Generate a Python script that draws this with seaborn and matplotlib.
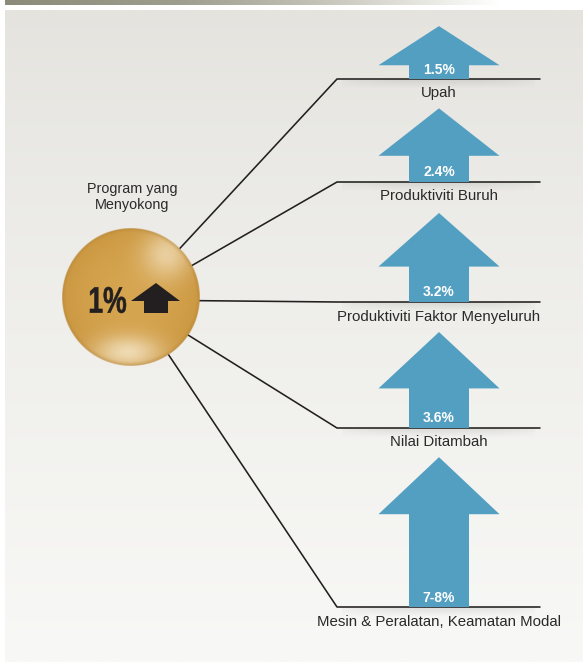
import numpy as np
import pandas as pd
import matplotlib
matplotlib.use("Agg")
import matplotlib.pyplot as plt
from matplotlib.patches import Polygon, PathPatch
from matplotlib.textpath import TextPath
from matplotlib.font_manager import FontProperties
from matplotlib.transforms import Affine2D
import seaborn as sns

# ---- data -------------------------------------------------------------
categories = ["Upah", "Produktiviti Buruh", "Produktiviti Faktor Menyeluruh",
              "Nilai Ditambah", "Mesin & Peralatan, Keamatan Modal"]
growth = [1.5, 2.4, 3.2, 3.6, 7.5]            # % growth (7.5 = midpoint of 7-8%)
growth_labels = ["1.5%", "2.4%", "3.2%", "3.6%", "7-8%"]
program_growth = "1%"
program_title = "Program yang\nMenyokong"

# ---- style --------------------------------------------------------------
sns.set_theme(style="white")
plt.rcParams["font.family"] = ["Liberation Sans", "DejaVu Sans"]

W, H = 583, 662
fig = plt.figure(figsize=(W / 100, H / 100), dpi=100)
ax = fig.add_axes([0, 0, 1, 1])
fig.patch.set_facecolor("white")

# background panel: soft vertical grey gradient
ys = np.linspace(0, 1, 200)[:, None, None]
top_c = np.array([228, 227, 222]) / 255
bot_c = np.array([248, 248, 246]) / 255
bg = top_c * (1 - ys ** 0.8) + bot_c * ys ** 0.8
bg = np.repeat(bg, 2, axis=1)
ax.imshow(bg, extent=[5, W, H, 10], aspect="auto", zorder=0, interpolation="bilinear")

# header rule fading to white
stops = np.array([0.0, 0.35, 0.6, 0.85, 1.0])
cols = np.array([[140, 139, 122], [158, 158, 142], [190, 190, 178],
                 [232, 232, 226], [255, 255, 255]]) / 255
xs = np.linspace(0, 1, 400)
bar = np.stack([np.interp(xs, stops, cols[:, k]) for k in range(3)], axis=-1)[None, :, :]
ax.imshow(bar, extent=[5, 500, 4.7, 0], aspect="auto", zorder=1, interpolation="bilinear")

# ---- layout -------------------------------------------------------------
hub_x, hub_y, hub_r = 131, 297.5, 69
ray_origin = (132, 300)
baselines = [79, 182, 302, 428, 607]
line_x0, line_x1 = 337, 540
arrow_cx = 439
shaft_half, head_half = 30, 60.5
px_per_sqrt = 64.0          # arrow length scale (square-root scale)
sqrt_origin = 0.398

# connectors: hub -> start of baseline -> end of baseline
rows = []
for i, b in enumerate(baselines):
    rows += [(i, ray_origin[0], ray_origin[1]), (i, line_x0, b), (i, line_x1, b)]
conn = pd.DataFrame(rows, columns=["row", "x", "y"])
sns.lineplot(data=conn, x="x", y="y", units="row", estimator=None, sort=False,
             color="#231f20", linewidth=1.15, ax=ax, zorder=3, legend=False)
ax.set_xlim(0, W)
ax.set_ylim(H, 0)
ax.axis("off")

# faint shadow under each baseline
shade = np.linspace(0.18, 0, 10)[:, None]
shade_img = np.zeros((10, 50, 4))
shade_img[..., :3] = 0.45
shade_img[..., 3] = shade * np.sin(np.linspace(0.1, np.pi - 0.1, 50))[None, :] ** 0.5
for b in baselines:
    ax.imshow(shade_img, extent=[line_x0 + 5, line_x1 - 5, b + 10, b + 0.8],
              aspect="auto", zorder=2, interpolation="bilinear")

# growth arrows
for cat, v, lab, b in zip(categories, growth, growth_labels, baselines):
    length = px_per_sqrt * (np.sqrt(v) - sqrt_origin)
    head = min(18 + 0.4 * length, 57)
    tip = b - length
    hb = tip + head
    pts = [(arrow_cx - shaft_half, b), (arrow_cx - shaft_half, hb),
           (arrow_cx - head_half, hb), (arrow_cx, tip),
           (arrow_cx + head_half, hb), (arrow_cx + shaft_half, hb),
           (arrow_cx + shaft_half, b)]
    ax.add_patch(Polygon(pts, closed=True, facecolor="#529fc1", edgecolor="none", zorder=4))
    ax.text(arrow_cx, b - 9.5, lab, color="white", fontsize=10, fontweight="bold",
            ha="center", va="center", zorder=5)
    ax.text(arrow_cx, b + 14.5, cat, color="#2a2a2a", fontsize=10.8,
            ha="center", va="center", zorder=5)

# golden hub
n = 300
gx = np.linspace(-1.0, 1.0, n)
U, V = np.meshgrid(gx, gx)
D = np.sqrt(U ** 2 + V ** 2)
c_mid = np.array([214, 165, 80]) / 255
c_edge = np.array([204, 152, 66]) / 255
img = c_mid * (1 - D[..., None] ** 2) + c_edge * D[..., None] ** 2
light = np.array([244, 228, 196]) / 255
hl_bottom = 0.85 * np.exp(-((U + 0.05) ** 2 / (2 * 0.34 ** 2) + (V - 0.80) ** 2 / (2 * 0.17 ** 2)))
hl_top = 0.7 * np.exp(-((U - 0.52) ** 2 + (V + 0.62) ** 2) / (2 * 0.25 ** 2))
for h in (hl_bottom, hl_top):
    img = img * (1 - h[..., None]) + light * h[..., None]
rim = np.clip((D - 0.94) / 0.06, 0, 1)[..., None]
img = img * (1 - 0.45 * rim) + np.array([176, 130, 55]) / 255 * 0.45 * rim
alpha = np.clip((1 - D) * n / 2 + 0.5, 0, 1)
hub = np.dstack([img, alpha])
ax.imshow(hub, extent=[hub_x - hub_r, hub_x + hub_r, hub_y + hub_r, hub_y - hub_r],
          aspect="auto", zorder=6, interpolation="bilinear")

# condensed bold "1%" inside the hub
tp = TextPath((0, 0), program_growth, size=40,
              prop=FontProperties(family="Liberation Sans", weight="bold"))
ext = tp.get_extents()
box_x0, box_x1, box_top, box_base = 90, 126, 287, 313
sx = (box_x1 - box_x0) / ext.width
sy = (box_base - box_top) / ext.height
tr = (Affine2D().translate(-ext.x0, -ext.y0).scale(sx, -sy)
      .translate(box_x0, box_base))
ax.add_patch(PathPatch(tr.transform_path(tp), facecolor="#231f20", edgecolor="#231f20",
                       linewidth=0.4, zorder=7))
up = [(144, 313), (144, 301), (131, 301), (156, 283), (180, 301), (168, 301), (168, 313)]
ax.add_patch(Polygon(up, closed=True, facecolor="#231f20", edgecolor="none", zorder=7))

ax.text(132, 197, program_title, fontsize=10.4, color="#2a2a2a", ha="center",
        va="center", linespacing=1.2, zorder=5)

fig.savefig("out.png", dpi=100)
